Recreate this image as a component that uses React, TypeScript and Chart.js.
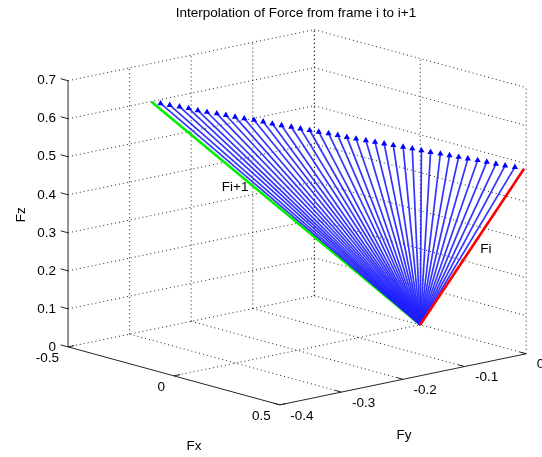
import React, { useEffect, useRef } from "react";
import { Chart, registerables } from "chart.js";
Chart.register(...registerables);

// ---------- data ----------
const chartTitle = "Interpolation of Force from frame i to i+1";
const xTicks = [-0.5, 0, 0.5];
const yTicks = [-0.4, -0.3, -0.2, -0.1, 0];
const zTicks = [0, 0.1, 0.2, 0.3, 0.4, 0.5, 0.6, 0.7];
const xTickLabels = ["-0.5", "0", "0.5"];
const yTickLabels = ["-0.4", "-0.3", "-0.2", "-0.1", "0"];
const zTickLabels = ["0", "0.1", "0.2", "0.3", "0.4", "0.5", "0.6", "0.7"];
const axisNames = { x: "Fx", y: "Fy", z: "Fz" };

const forceOrigin = [0, 0, 0];
const forceFi = [0.49, 0, 0.485];      // red
const forceFi1 = [-0.31, -0.33, 0.65]; // green

// interpolated force tips (blue)
const tipX = [-0.29, -0.27, -0.25, -0.23, -0.21, -0.19, -0.17, -0.15, -0.13, -0.11, -0.09, -0.07, -0.05, -0.03, -0.01,
  0.01, 0.03, 0.05, 0.07, 0.09, 0.11, 0.13, 0.15, 0.17, 0.19, 0.21, 0.23, 0.25, 0.27, 0.29, 0.31, 0.33, 0.35, 0.37,
  0.39, 0.41, 0.43, 0.45, 0.47];
const tipY = [-0.322, -0.314, -0.305, -0.297, -0.289, -0.281, -0.272, -0.264, -0.256, -0.248, -0.239, -0.231, -0.223,
  -0.215, -0.206, -0.198, -0.19, -0.182, -0.173, -0.165, -0.157, -0.149, -0.14, -0.132, -0.124, -0.116, -0.107, -0.099,
  -0.091, -0.083, -0.074, -0.066, -0.058, -0.05, -0.041, -0.033, -0.025, -0.017, -0.008];
const tipZ = [0.646, 0.642, 0.638, 0.634, 0.629, 0.625, 0.621, 0.617, 0.613, 0.609, 0.605, 0.601, 0.596, 0.592, 0.588,
  0.584, 0.58, 0.576, 0.572, 0.568, 0.563, 0.559, 0.555, 0.551, 0.547, 0.543, 0.539, 0.535, 0.53, 0.526, 0.522, 0.518,
  0.514, 0.51, 0.506, 0.502, 0.497, 0.493, 0.489];

const labelFi = "Fi";
const labelFi1 = "Fi+1";

// ---------- view (projection of the 3D box) ----------
const W = 542;
const H = 457;
const LIM = { x: [-0.5, 0.5], y: [-0.4, 0], z: [0, 0.7] };
const VIEW = { ox: 65, oy: 349, ex: [215, 59], ey: [625, -130], ez: [0, -387] };

function proj(x: number, y: number, z: number) {
  const a = x - LIM.x[0];
  const b = y - LIM.y[0];
  const c = z - LIM.z[0];
  return {
    x: VIEW.ox + VIEW.ex[0] * a + VIEW.ey[0] * b + VIEW.ez[0] * c,
    y: VIEW.oy + VIEW.ex[1] * a + VIEW.ey[1] * b + VIEW.ez[1] * c,
  };
}

const FONT = '"Liberation Sans", Arial, Helvetica, sans-serif';

export default function App() {
  const ref = useRef<HTMLCanvasElement | null>(null);

  useEffect(() => {
    document.body.style.margin = "0";
    const canvas = ref.current;
    if (!canvas) return;

    const datasets: any[] = [];
    const seg = (p: number[], q: number[], style: any) => {
      datasets.push({
        data: [proj(p[0], p[1], p[2]), proj(q[0], q[1], q[2])],
        showLine: true,
        pointRadius: 0,
        fill: false,
        ...style,
      });
    };

    const gridStyle = { borderColor: "rgba(10,10,10,0.9)", borderWidth: 1, borderDash: [1, 3], order: 20 };
    const [x0, x1] = LIM.x;
    const [y0, y1] = LIM.y;
    const [z0, z1] = LIM.z;
    // left back wall (x = x0)
    zTicks.forEach((z) => seg([x0, y0, z], [x0, y1, z], gridStyle));
    yTicks.filter((y) => y !== y0).forEach((y) => seg([x0, y, z0], [x0, y, z1], gridStyle));
    // right back wall (y = y1)
    zTicks.filter((z) => z !== z0).forEach((z) => seg([x0, y1, z], [x1, y1, z], gridStyle));
    xTicks.forEach((x) => seg([x, y1, z0], [x, y1, z1], gridStyle));
    // floor
    xTicks.filter((x) => x !== x0 && x !== x1).forEach((x) => seg([x, y0, z0], [x, y1, z0], gridStyle));
    yTicks.filter((y) => y !== y0).forEach((y) => seg([x0, y, z0], [x1, y, z0], gridStyle));

    // axes
    const axisStyle = { borderColor: "#262626", borderWidth: 1, order: 15 };
    seg([x0, y0, z0], [x0, y0, z1], axisStyle);
    seg([x0, y0, z0], [x1, y0, z0], axisStyle);
    seg([x1, y0, z0], [x1, y1, z0], axisStyle);
    // tick marks
    zTicks.forEach((z) => seg([x0, y0, z], [x0 - 0.035, y0, z], axisStyle));
    xTicks.forEach((x) => seg([x, y0, z0], [x, y0 + 0.01, z0], axisStyle));
    yTicks.forEach((y) => seg([x1, y, z0], [x1 - 0.03, y, z0], axisStyle));

    // green Fi+1 (under blue)
    seg(forceOrigin, forceFi1, { borderColor: "#00f000", borderWidth: 2.6, order: 8 });
    // blue interpolated forces
    tipX.forEach((tx, i) => {
      const p = proj(forceOrigin[0], forceOrigin[1], forceOrigin[2]);
      const q = proj(tx, tipY[i], tipZ[i]);
      datasets.push({
        data: [p, q],
        showLine: true,
        borderColor: "rgba(30,30,255,0.9)",
        backgroundColor: "#0000ff",
        borderWidth: 1.7,
        pointRadius: [0, 3.6],
        pointStyle: "triangle",
        pointBorderWidth: 0,
        order: 5,
      });
    });
    // red Fi
    seg(forceOrigin, forceFi, { borderColor: "#ff0000", borderWidth: 2.6, order: 2 });

    const textPlugin = {
      id: "texts",
      afterDraw(chart: any) {
        const ctx = chart.ctx;
        const sx = chart.scales.x;
        const sy = chart.scales.y;
        const px = (x: number, y: number, z: number) => {
          const p = proj(x, y, z);
          return { x: sx.getPixelForValue(p.x), y: sy.getPixelForValue(p.y) };
        };
        ctx.save();
        ctx.fillStyle = "#000";
        ctx.font = `13.5px ${FONT}`;
        // title
        ctx.textAlign = "center";
        ctx.textBaseline = "middle";
        ctx.fillText(chartTitle, 296, 13);
        // z tick labels
        ctx.textAlign = "right";
        zTicks.forEach((z, i) => {
          const p = px(x0, y0, z);
          ctx.fillText(zTickLabels[i], p.x - 12, p.y);
        });
        // x tick labels
        ctx.textAlign = "right";
        xTicks.forEach((x, i) => {
          const p = px(x, y0, z0);
          ctx.fillText(xTickLabels[i], p.x - 9, p.y + 11);
        });
        // y tick labels
        ctx.textAlign = "left";
        yTicks.forEach((y, i) => {
          const p = px(x1, y, z0);
          ctx.fillText(yTickLabels[i], p.x + 10.5, p.y + 11);
        });
        // axis names
        ctx.textAlign = "center";
        const fx = px(0, y0, z0);
        ctx.fillText(axisNames.x, fx.x + 20, fx.y + 70);
        const fy = px(x1, (y0 + y1) / 2, z0);
        ctx.fillText(axisNames.y, fy.x + 1, fy.y + 56);
        ctx.save();
        const fz = px(x0, y0, (z0 + z1) / 2);
        ctx.translate(fz.x - 47, fz.y + 1);
        ctx.rotate(-Math.PI / 2);
        ctx.fillText(axisNames.z, 0, 0);
        ctx.restore();
        // vector labels
        ctx.textAlign = "left";
        const li = px(forceFi[0] / 2, forceFi[1] / 2, forceFi[2] / 2);
        ctx.fillText(labelFi, li.x + 8, li.y + 2);
        const lg = px(forceFi1[0] / 2, forceFi1[1] / 2, forceFi1[2] / 2);
        ctx.fillText(labelFi1, lg.x - 64, lg.y - 26);
        ctx.restore();
      },
    };

    const chart = new Chart(canvas, {
      type: "scatter",
      data: { datasets },
      options: {
        animation: false,
        responsive: false,
        maintainAspectRatio: false,
        layout: { padding: 0 },
        plugins: { legend: { display: false }, tooltip: { enabled: false }, title: { display: false } },
        scales: {
          x: { type: "linear", min: 0, max: W, display: false },
          y: { type: "linear", min: 0, max: H, reverse: true, display: false },
        },
      },
      plugins: [textPlugin],
    });
    return () => chart.destroy();
  }, []);

  return (
    <div style={{ width: W, height: H, background: "#fff" }}>
      <canvas ref={ref} width={W} height={H} style={{ display: "block" }} />
    </div>
  );
}
